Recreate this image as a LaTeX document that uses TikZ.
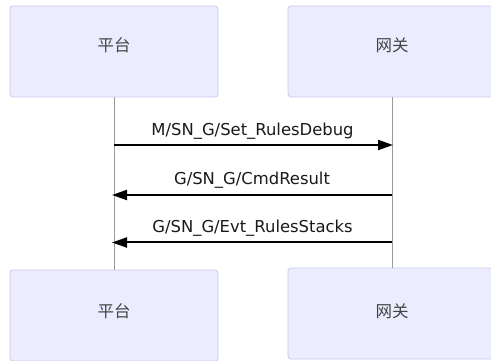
\documentclass[tikz,border=0pt]{standalone}
\usepackage{fontspec}
\setmainfont{DejaVu Sans}
\newfontfamily\cjk{Noto Sans CJK SC}
\usetikzlibrary{arrows.meta}
\definecolor{boxfill}{HTML}{ECECFF}
\definecolor{boxline}{HTML}{C8C8EE}
\definecolor{lifeline}{HTML}{9A9A9A}
\definecolor{cjktext}{HTML}{444444}
\tikzset{
  actorbox/.style={draw=boxline, fill=boxfill, line width=0.8pt, rounded corners=3pt,
    minimum width=208pt, minimum height=91pt, inner sep=0pt},
  actorlabel/.style={font=\cjk\fontsize{16.5}{19}\selectfont, text=cjktext},
  msg/.style={line width=2pt, -{Triangle[length=15pt,width=10pt]}},
  msglabel/.style={font=\fontsize{16.4}{19}\selectfont, text=black!90, inner sep=0pt},
  lifeln/.style={draw=lifeline, line width=0.8pt}
}
\begin{document}
\begin{tikzpicture}[x=1pt,y=-1pt]
\useasboundingbox (0,0) rectangle (491,361);
\clip (0,0) rectangle (491,361);
% actor boxes
\node[actorbox] (p1) at (114,51.5) {};
\node[actorbox] (g1) at (392,51.5) {};
\node[actorbox] (p2) at (114,315.5) {};
\node[actorbox] (g2) at (392,313.5) {};
\node[actorlabel] (p1t) at (114,45) {平台};
\node[actorlabel] (g1t) at (392,45) {网关};
\node[actorlabel] (p2t) at (114,311) {平台};
\node[actorlabel] (g2t) at (392,311) {网关};
% lifelines
\draw[lifeln] (p1.south) -- (p2.north);
\draw[lifeln] (g1.south) -- (g2.north);
% message anchor points
\coordinate (pa) at (114,145);
\coordinate (ga) at (393,145);
\coordinate (pb) at (112,195);
\coordinate (gb) at (392,195);
\coordinate (pc) at (112,242.5);
\coordinate (gc) at (392,242.5);
% messages
\draw[msg] (pa) -- (ga);
\draw[msg] (gb) -- (pb);
\draw[msg] (gc) -- (pc);
\node[msglabel] (l1) at (252.5,131.5) {M/SN\_G/Set\_RulesDebug};
\node[msglabel] (l2) at (252,180.5) {G/SN\_G/CmdResult};
\node[msglabel] (l3) at (252.5,228.5) {G/SN\_G/Evt\_RulesStacks};
\end{tikzpicture}
\end{document}
